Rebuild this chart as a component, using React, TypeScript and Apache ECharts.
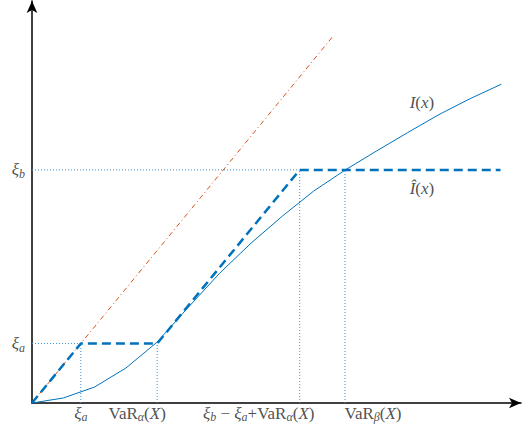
import React, { useEffect, useRef } from "react";
import * as echarts from "echarts";

// ---- data (in chart units) ----
const xiA = 1.0;          // ξ_a
const xiB = 3.92;         // ξ_b
const varAlpha = 2.565;   // VaR_α(X)
const varBeta = 6.413;    // VaR_β(X)
const kneeX = varAlpha + xiB - xiA; // ξ_b − ξ_a + VaR_α(X)
const hatEndX = 9.6;
const diagEnd = 6.15;

const curveX = [0, 0.641, 1.283, 1.924, 2.565, 3.206, 3.848, 4.489, 5.13, 5.771, 6.413, 7.054, 7.695, 8.336, 8.978, 9.619];
const curveY = [0, 0.084, 0.269, 0.588, 1.025, 1.613, 2.185, 2.689, 3.143, 3.563, 3.916, 4.235, 4.546, 4.849, 5.118, 5.361];

const xTickValues = [xiA, varAlpha, kneeX, varBeta];
const xTickLabels = [
  "{m|ξ}{s|a}",
  "{r|VaR}{s|α}{r|(}{m|X}{r|)}",
  "{m|ξ}{s|b}{r| − }{m|ξ}{s|a}{r|+VaR}{s|α}{r|(}{m|X}{r|)}",
  "{r|VaR}{s|β}{r|(}{m|X}{r|)}",
];
const yTickValues = [xiA, xiB];
const yTickLabels = ["{m|ξ}{s|a}", "{m|ξ}{s|b}"];

const curveName = "{m|I}{r|(}{m|x}{r|)}";
const hatName = "{m|Î}{r|(}{m|x}{r|)}";

// ---- styling ----
const BLUE = "#0072BD";
const DOT = "#3d93d6";
const RED = "#D95319";
const FONT = "'Liberation Serif', 'DejaVu Serif', serif";
const rich: any = {
  m: { fontFamily: FONT, fontStyle: "italic", fontSize: 17, color: "#222", lineHeight: 20 },
  r: { fontFamily: FONT, fontStyle: "normal", fontSize: 17, color: "#222", lineHeight: 20 },
  s: { fontFamily: FONT, fontStyle: "italic", fontSize: 12, color: "#222", lineHeight: 12, verticalAlign: "bottom" },
};
const xLabelOffsets = [[0, 0], [-20, 0], [-41, 0], [28, 0]];

export default function App() {
  const ref = useRef<HTMLDivElement>(null);
  useEffect(() => {
    if (!ref.current) return;
    const chart = echarts.init(ref.current, undefined, { renderer: "svg" });

    const curve = curveX.map((x, i) => [x, curveY[i]]);
    const hat = [[0, 0], [xiA, xiA], [varAlpha, xiA], [kneeX, xiB], [hatEndX, xiB]];
    const diag = [[0, 0], [diagEnd, diagEnd]];
    const guides = [
      [[0, xiA], [xiA, xiA]],
      [[xiA, 0], [xiA, xiA]],
      [[varAlpha, 0], [varAlpha, xiA]],
      [[0, xiB], [kneeX, xiB]],
      [[kneeX, 0], [kneeX, xiB]],
      [[varBeta, 0], [varBeta, xiB]],
    ];

    const series: any[] = [];
    guides.forEach((g) =>
      series.push({
        type: "line",
        data: g,
        symbol: "none",
        silent: true,
        lineStyle: { color: DOT, width: 1, type: [1, 2] },
      })
    );
    series.push({
      type: "line",
      data: diag,
      symbol: "none",
      lineStyle: { color: RED, width: 1, type: [5, 3, 1, 3] },
    });
    series.push({
      type: "line",
      data: curve,
      symbol: "none",
      lineStyle: { color: BLUE, width: 1 },
    });
    series.push({
      type: "line",
      data: hat,
      symbol: "none",
      lineStyle: { color: BLUE, width: 2.5, type: [9, 5] },
    });
    series.push({
      type: "scatter",
      symbolSize: 0,
      silent: true,
      data: xTickValues.map((v, i) => ({
        value: [v, 0],
        label: {
          show: true,
          position: "bottom",
          distance: 0,
          offset: xLabelOffsets[i],
          formatter: xTickLabels[i],
          rich,
        },
      })),
    });
    series.push({
      type: "scatter",
      symbolSize: 0,
      silent: true,
      data: yTickValues.map((v, i) => ({
        value: [0, v],
        label: {
          show: true,
          position: "left",
          distance: 7,
          formatter: yTickLabels[i],
          rich,
        },
      })),
    });
    series.push({
      type: "scatter",
      symbolSize: 0,
      silent: true,
      data: [
        { value: [7.99, 5.06], label: { show: true, position: "inside", formatter: curveName, rich } },
        { value: [7.99, 3.61], label: { show: true, position: "inside", formatter: hatName, rich } },
      ],
    });

    const axisLine = {
      show: true,
      symbol: ["none", "arrow"],
      symbolSize: [8, 12],
      lineStyle: { color: "#000", width: 1.5 },
    };

    chart.setOption({
      animation: false,
      textStyle: { fontFamily: FONT },
      grid: { left: 32, right: 1, top: 1, bottom: 27, containLabel: false },
      xAxis: {
        type: "value",
        min: 0,
        max: 10.02,
        axisLine,
        axisTick: { show: false },
        axisLabel: { show: false },
        splitLine: { show: false },
      },
      yAxis: {
        type: "value",
        min: 0,
        max: 6.76,
        axisLine,
        axisTick: { show: false },
        axisLabel: { show: false },
        splitLine: { show: false },
      },
      series,
    });
    return () => chart.dispose();
  }, []);

  return (
    <div
      ref={ref}
      style={{ position: "fixed", left: 0, top: 0, width: 522, height: 430, background: "#fff" }}
    />
  );
}
